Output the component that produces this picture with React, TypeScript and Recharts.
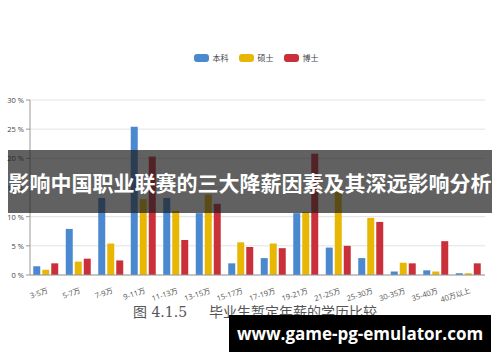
import React from 'react';
import { BarChart, Bar, XAxis, YAxis, CartesianGrid, Legend } from 'recharts';

// salary bands (万 = 10k yuan / year)
const bands = ['3-5万', '5-7万', '7-9万', '9-11万', '11-13万', '13-15万', '15-17万', '17-19万', '19-21万', '21-25万', '25-30万', '30-35万', '35-40万', '40万以上'];
const bachelor = [1.5, 7.9, 13.2, 25.4, 13.2, 10.6, 2.0, 2.9, 10.6, 4.7, 2.9, 0.6, 0.8, 0.3];
const master = [0.9, 2.3, 5.4, 13.0, 11.0, 13.8, 5.6, 5.4, 10.8, 14.7, 9.8, 2.1, 0.6, 0.3];
const doctor = [2.0, 2.8, 2.5, 20.3, 6.0, 12.2, 4.8, 4.6, 20.8, 5.0, 9.1, 2.0, 5.8, 2.0];
const yTicks = [0, 5, 10, 15, 20, 25, 30];

const seriesNames = ['本科', '硕士', '博士'];
const seriesColors = ['#4a88cf', '#e8b704', '#c9303a'];

const data = bands.map((band, i) => ({ band, bachelor: bachelor[i], master: master[i], doctor: doctor[i] }));

const font = '"Open Sans", "Noto Sans CJK SC", sans-serif';

const XTick = ({ x, y, payload }: any) => (
  <g transform={`translate(${x + 1},${y + 6})`}>
    <text textAnchor="end" transform="rotate(-18)" fontSize={7.5} fill="#555" fontFamily={font} dy={4}>
      {payload.value}
    </text>
  </g>
);

const YTick = ({ x, y, payload }: any) => (
  <text x={x} y={y} dy={3} textAnchor="end" fontSize={7.5} fill="#444" fontFamily={font}>
    {`${payload.value} %`}
  </text>
);

const LegendBox = ({ payload }: any) => {
  const items = [...(payload || [])].sort((a: any, b: any) => seriesNames.indexOf(a.value) - seriesNames.indexOf(b.value));
  return (
    <div style={{ display: 'flex', justifyContent: 'center', gap: 10, fontFamily: font, fontSize: 8, color: '#444' }}>
      {items.map((p: any) => (
        <span key={p.value} style={{ display: 'flex', alignItems: 'center', gap: 4 }}>
          <span style={{ width: 15, height: 8, borderRadius: 3, background: p.color, display: 'inline-block' }} />
          {p.value}
        </span>
      ))}
    </div>
  );
};

export default function App() {
  return (
    <div style={{ position: 'relative', width: 500, height: 362, background: '#fff', overflow: 'hidden' }}>
      <style>{'body{margin:0}'}</style>
      <BarChart
        width={500}
        height={362}
        data={data}
        margin={{ top: 89, right: 15, bottom: 57, left: 0 }}
        barCategoryGap="10%"
        barGap={2}
      >
        <CartesianGrid vertical={false} stroke="#e2e2e2" />
        <XAxis
          dataKey="band"
          interval={0}
          height={30}
          tick={<XTick />}
          tickLine={false}
          axisLine={{ stroke: '#999' }}
        />
        <YAxis
          width={30}
          domain={[0, 30]}
          ticks={yTicks}
          tick={<YTick />}
          tickSize={4}
          tickMargin={2}
          axisLine={{ stroke: '#999' }}
          tickLine={{ stroke: '#999' }}
        />
        <Legend verticalAlign="top" content={<LegendBox />} wrapperStyle={{ top: 52, left: 0, width: 512 }} />
        <Bar dataKey="bachelor" name={seriesNames[0]} fill={seriesColors[0]} isAnimationActive={false} />
        <Bar dataKey="master" name={seriesNames[1]} fill={seriesColors[1]} isAnimationActive={false} />
        <Bar dataKey="doctor" name={seriesNames[2]} fill={seriesColors[2]} isAnimationActive={false} />
      </BarChart>

      <div style={{ position: 'absolute', left: 133, top: 301, fontSize: 14, color: '#555', fontFamily: '"DejaVu Serif", "Noto Sans CJK SC", serif', whiteSpace: 'nowrap' }}>
        图 4.1.5<span style={{ display: 'inline-block', width: 22 }} />毕业生暂定年薪的学历比较
      </div>

      <div style={{ position: 'absolute', left: 8, top: 150, width: 484, height: 63, background: 'rgba(30,30,30,0.7)', display: 'flex', alignItems: 'center', justifyContent: 'center' }}>
        <span style={{ color: '#fff', fontWeight: 700, fontSize: 21, fontFamily: '"Noto Sans CJK SC", sans-serif', whiteSpace: 'nowrap' }}>
          影响中国职业联赛的三大降薪因素及其深远影响分析
        </span>
      </div>

      <div style={{ position: 'absolute', left: 229, top: 315, width: 262, height: 37, background: '#000', display: 'flex', alignItems: 'center', justifyContent: 'center' }}>
        <span style={{ color: '#fff', fontWeight: 700, fontSize: 17, fontFamily: '"Open Sans", "DejaVu Sans", sans-serif', whiteSpace: 'nowrap' }}>
          www.game-pg-emulator.com
        </span>
      </div>
    </div>
  );
}
